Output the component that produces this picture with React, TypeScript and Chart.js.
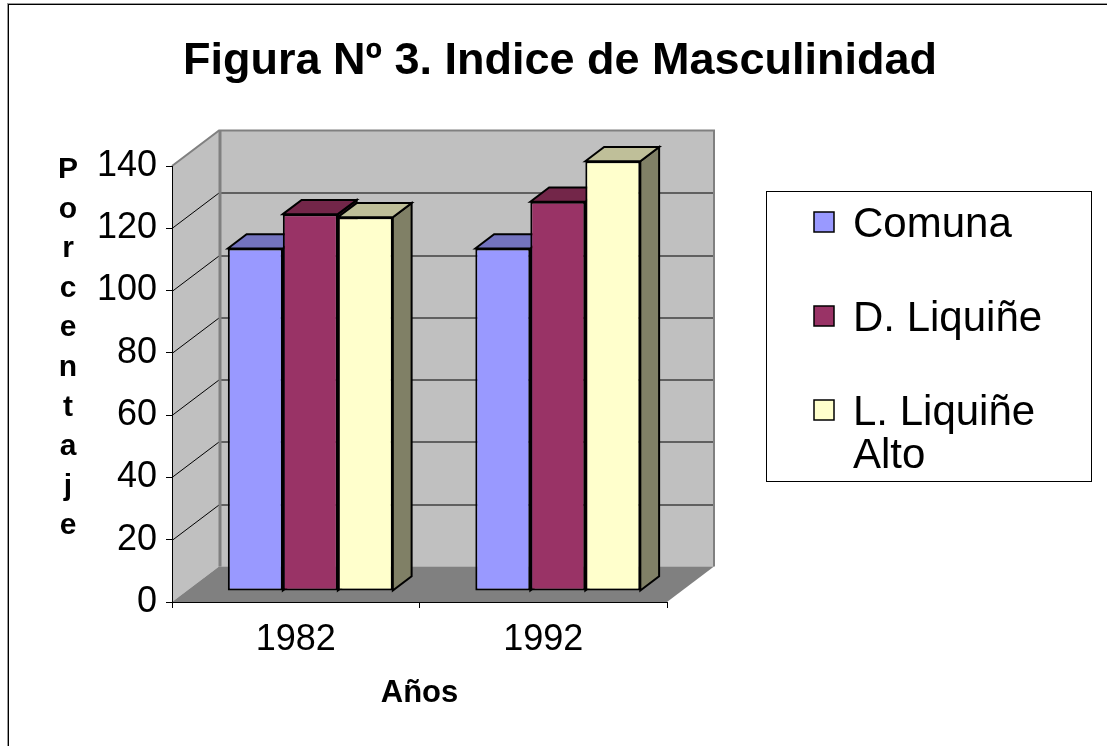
import React, { useEffect, useRef } from 'react';
import { Chart, registerables } from 'chart.js';

Chart.register(...registerables);

// ---------- data ----------
const categories = ['1982', '1992'];
const seriesNames = ['Comuna', 'D. Liquiñe', 'L. Liquiñe Alto'];
const comuna = [110, 110];
const dLiquine = [121, 125];
const lLiquineAlto = [120, 138];
const yMin = 0;
const yMax = 140;
const yStep = 20;
const chartTitle = 'Figura Nº 3. Indice de Masculinidad';
const yAxisTitle = 'Porcentaje';
const xAxisTitle = 'Años';
const legendLines = [['Comuna'], ['D. Liquiñe'], ['L. Liquiñe', 'Alto']];

// ---------- style ----------
const FONT = "'Liberation Sans', Arial, Helvetica, sans-serif";
const FRONT = ['#9999FF', '#993366', '#FFFFCC'];
const TOP = ['#7373BF', '#732649', '#BFBF99'];
const SIDE = ['#4D4D80', '#4D1A33', '#808066'];
const DX = 47;
const DY = 35.5;
const F0 = 0.31;
const FD = 0.4;

const wallsPlugin = {
  id: 'walls3d',
  beforeDraw(chart: any) {
    const { ctx, chartArea: a, scales } = chart;
    const ys = scales.y;
    const L = a.left, R = a.right, T = a.top, B = a.bottom;
    ctx.save();
    ctx.fillStyle = '#C0C0C0';
    ctx.fillRect(L + DX, T - DY, R - L, B - T);
    ctx.beginPath();
    ctx.moveTo(L, T);
    ctx.lineTo(L + DX, T - DY);
    ctx.lineTo(L + DX, B - DY);
    ctx.lineTo(L, B);
    ctx.closePath();
    ctx.fill();
    ctx.fillStyle = '#808080';
    ctx.beginPath();
    ctx.moveTo(L, B);
    ctx.lineTo(R, B);
    ctx.lineTo(R + DX, B - DY);
    ctx.lineTo(L + DX, B - DY);
    ctx.closePath();
    ctx.fill();
    // gridlines
    ctx.strokeStyle = '#000';
    ctx.lineWidth = 1;
    ys.ticks.forEach((t: any) => {
      if (t.value === ys.min || t.value === ys.max) return;
      const py = Math.round(ys.getPixelForValue(t.value)) + 0.5;
      ctx.beginPath();
      ctx.moveTo(L, py);
      ctx.lineTo(L + DX, py - DY);
      ctx.lineTo(R + DX, py - DY);
      ctx.stroke();
    });
    // edges
    ctx.strokeStyle = '#808080';
    ctx.lineWidth = 2;
    ctx.beginPath();
    ctx.moveTo(L, T);
    ctx.lineTo(L + DX, T - DY);
    ctx.lineTo(R + DX, T - DY);
    ctx.lineTo(R + DX, B - DY);
    ctx.stroke();
    ctx.lineWidth = 3;
    ctx.beginPath();
    ctx.moveTo(L + DX + 1, T - DY);
    ctx.lineTo(L + DX + 1, B - DY);
    ctx.stroke();
    ctx.restore();
  },
};

// Draws the side and top faces (painter's order, left to right) before the
// library draws the front faces of the bars in the same shifted plane.
const barsPlugin = {
  id: 'bars3d',
  beforeDatasetsDraw(chart: any) {
    const ctx = chart.ctx;
    ctx.save();
    ctx.translate(DX * F0, -DY * F0);
    const ddx = DX * FD, ddy = DY * FD;
    const metas = chart.data.datasets.map((_: any, i: number) => chart.getDatasetMeta(i));
    const n = chart.data.labels.length;
    for (let j = 0; j < n; j++) {
      metas.forEach((meta: any, i: number) => {
        const el = meta.data[j];
        if (!el) return;
        const { x, y, base, width } = el.getProps(['x', 'y', 'base', 'width'], true);
        const l = x - width / 2, r = x + width / 2;
        ctx.save();
        ctx.lineWidth = 2;
        ctx.strokeStyle = '#000';
        ctx.lineJoin = 'miter';
        ctx.fillStyle = SIDE[i];
        ctx.beginPath();
        ctx.moveTo(r, y);
        ctx.lineTo(r + ddx, y - ddy);
        ctx.lineTo(r + ddx, base - ddy);
        ctx.lineTo(r, base);
        ctx.closePath();
        ctx.fill();
        ctx.stroke();
        ctx.fillStyle = TOP[i];
        ctx.beginPath();
        ctx.moveTo(l, y);
        ctx.lineTo(l + ddx, y - ddy);
        ctx.lineTo(r + ddx, y - ddy);
        ctx.lineTo(r, y);
        ctx.closePath();
        ctx.fill();
        ctx.stroke();
        ctx.restore();
      });
    }
  },
  afterDatasetsDraw(chart: any) {
    chart.ctx.restore();
  },
};

const overlayPlugin = {
  id: 'overlay',
  afterDraw(chart: any) {
    const ctx = chart.ctx;
    ctx.save();
    ctx.fillStyle = '#000';
    // title
    ctx.font = `bold 45px ${FONT}`;
    ctx.textAlign = 'center';
    ctx.textBaseline = 'alphabetic';
    ctx.fillText(chartTitle, 560, 74);
    // vertical y title
    ctx.font = `bold 30px ${FONT}`;
    const letters = yAxisTitle.split('');
    letters.forEach((ch, k) => {
      ctx.fillText(ch, 68, 178 + k * 39.6);
    });
    // legend
    const bx = 766, by = 191, bw = 325, bh = 290;
    ctx.strokeStyle = '#000';
    ctx.lineWidth = 1;
    ctx.strokeRect(bx + 0.5, by + 0.5, bw, bh);
    ctx.font = `42px ${FONT}`;
    ctx.textAlign = 'left';
    const centers = [222, 316, 410];
    legendLines.forEach((lines, k) => {
      const c = centers[k];
      ctx.fillStyle = FRONT[k];
      ctx.fillRect(814, c - 10, 20, 20);
      ctx.lineWidth = 1.5;
      ctx.strokeRect(814, c - 10, 20, 20);
      ctx.fillStyle = '#000';
      lines.forEach((ln, j) => {
        ctx.fillText(ln, 853, c + 15 + j * 43);
      });
    });
    ctx.restore();
  },
};

export default function App() {
  const ref = useRef<HTMLCanvasElement>(null);
  useEffect(() => {
    if (!ref.current) return;
    Chart.defaults.font.family = FONT;
    Chart.defaults.color = '#000';
    const series = [comuna, dLiquine, lLiquineAlto];
    const chart = new Chart(ref.current, {
      type: 'bar',
      data: {
        labels: categories,
        datasets: series.map((d, i) => ({
          label: seriesNames[i],
          data: d,
          backgroundColor: FRONT[i],
          borderColor: '#000',
          borderWidth: 2,
          borderSkipped: false,
          clip: false,
          categoryPercentage: 2 / 3,
          barPercentage: 1,
        })),
      },
      options: {
        responsive: false,
        animation: false,
        devicePixelRatio: 1,
        layout: { padding: { top: 166, right: 440, left: 0, bottom: 0 } },
        plugins: {
          legend: { display: false },
          title: { display: false },
          tooltip: { enabled: false },
        },
        scales: {
          x: {
            grid: { drawOnChartArea: false, color: '#000', tickLength: 6, offset: true },
            border: { color: '#000', width: 1 },
            ticks: { color: '#000', font: { size: 36 }, padding: 10, maxRotation: 0 },
            title: {
              display: true,
              text: xAxisTitle,
              color: '#000',
              font: { size: 31, weight: 'bold' },
              padding: { top: 0, bottom: 34 },
            },
            afterFit: (s: any) => { s.height = 144; },
          },
          y: {
            min: yMin,
            max: yMax,
            ticks: { stepSize: yStep, color: '#000', font: { size: 36 }, padding: 9 },
            grid: { drawOnChartArea: false, color: '#000', tickLength: 6 },
            border: { color: '#000', width: 1 },
            afterFit: (s: any) => { s.width = 172; },
          },
        },
      } as any,
      plugins: [wallsPlugin, barsPlugin, overlayPlugin],
    });
    return () => chart.destroy();
  }, []);

  return (
    <div style={{ position: 'fixed', inset: 0, overflow: 'hidden', background: '#fff' }}>
      <div
        style={{
          position: 'absolute',
          left: 8,
          top: 4,
          width: 1300,
          height: 900,
          borderLeft: '1px solid #000',
          borderTop: '1px solid #000',
          boxShadow: '-1px -1px 0 #999',
        }}
      />
      <canvas
        ref={ref}
        width={1107}
        height={746}
        style={{ position: 'absolute', left: 0, top: 0, width: 1107, height: 746 }}
      />
    </div>
  );
}
